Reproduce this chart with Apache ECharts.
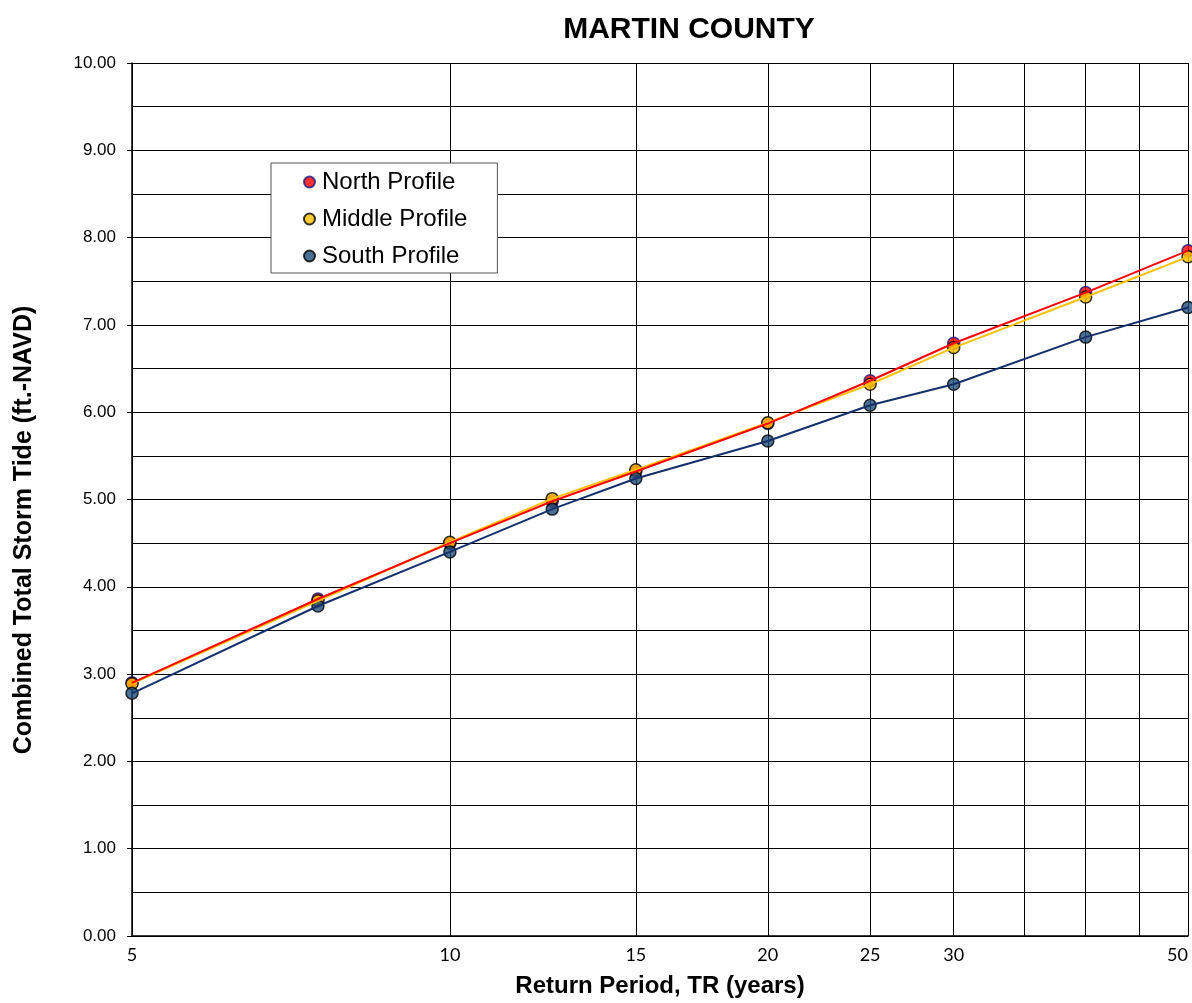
<!DOCTYPE html>
<html>
<head>
<meta charset="utf-8">
<script src="https://cdn.jsdelivr.net/npm/echarts@6/dist/echarts.min.js"></script>
<style>
  html, body { margin: 0; padding: 0; background: #fff; }
  #chart { width: 1192px; height: 1003px; }
</style>
</head>
<body>
<div id="chart"></div>
<script>
// ---- data ----
const returnPeriods = [5, 7.5, 10, 12.5, 15, 20, 25, 30, 40, 50];
const northProfile  = [2.90, 3.86, 4.50, 4.98, 5.32, 5.87, 6.36, 6.79, 7.37, 7.85];
const middleProfile = [2.89, 3.84, 4.51, 5.01, 5.34, 5.88, 6.32, 6.74, 7.32, 7.78];
const southProfile  = [2.78, 3.78, 4.40, 4.89, 5.24, 5.67, 6.08, 6.32, 6.86, 7.20];
const xGridValues  = [5, 10, 15, 20, 25, 30, 35, 40, 45, 50];
const xLabelValues = [5, 10, 15, 20, 25, 30, 50];
const seriesNames = ['North Profile', 'Middle Profile', 'South Profile'];

const pairs = ys => returnPeriods.map((x, i) => [x, ys[i]]);

const chart = echarts.init(document.getElementById('chart'), null, { renderer: 'canvas' });

const markerStyles = [
  { color: '#FF0000', borderColor: '#1a1a80', borderWidth: 1.5 },
  { color: '#FFC000', borderColor: '#000000', borderWidth: 1.5 },
  { color: '#1F4E79', borderColor: '#000000', borderWidth: 1.5 }
];
const lineColors = ['#FF0000', '#FFC000', '#14306B'];
const dataSets = [northProfile, middleProfile, southProfile];

const scatterSeries = dataSets.map((d, i) => ({
  name: seriesNames[i],
  type: 'scatter',
  data: pairs(d),
  symbol: 'circle',
  symbolSize: 12,
  itemStyle: markerStyles[i],
  z: 2 + i * 0.1,
  animation: false
}));
const lineSeries = dataSets.map((d, i) => ({
  name: seriesNames[i] + ' line',
  type: 'line',
  data: pairs(d),
  showSymbol: false,
  symbol: 'none',
  lineStyle: { color: lineColors[i], width: 2 },
  z: 5 - i * 0.1,
  animation: false
}));

chart.setOption({
  animation: false,
  backgroundColor: '#ffffff',
  title: {
    text: 'MARTIN COUNTY',
    left: 684,
    top: 10,
    textAlign: 'center',
    textStyle: { fontFamily: 'Liberation Sans, Arial', fontWeight: 'bold', fontSize: 30, color: '#000' }
  },
  graphic: [{
    type: 'text',
    x: 24,
    y: 530,
    rotation: Math.PI / 2,
    style: {
      text: 'Combined Total Storm Tide (ft.-NAVD)',
      fontFamily: 'Liberation Sans, Arial',
      fontWeight: 'bold',
      fontSize: 25,
      fill: '#000',
      align: 'center',
      verticalAlign: 'middle'
    }
  }],
  legend: {
    data: seriesNames.map(n => ({ name: n, icon: 'circle' })),
    orient: 'vertical',
    left: 271,
    top: 163,
    itemWidth: 11,
    itemHeight: 11,
    itemGap: 13,
    padding: [7, 30, 5, 32],
    backgroundColor: '#ffffff',
    borderColor: '#555555',
    borderWidth: 1,
    borderRadius: 0,
    textStyle: { fontFamily: 'Liberation Sans, Arial', fontSize: 24, color: '#000', lineHeight: 24, padding: [0, 0, 0, 2] }
  },
  grid: { left: 132, right: 4, top: 63, bottom: 66, containLabel: false },
  xAxis: {
    type: 'log',
    logBase: 10,
    min: 5,
    max: 50,
    name: 'Return Period, TR (years)',
    nameLocation: 'middle',
    nameGap: 38,
    nameTextStyle: { fontFamily: 'Liberation Sans, Arial', fontWeight: 'bold', fontSize: 24, color: '#000' },
    axisLine: { show: true, lineStyle: { color: '#000', width: 1.5 } },
    axisTick: { show: false, customValues: xGridValues },
    axisLabel: {
      customValues: xLabelValues,
      formatter: v => String(Math.round(v)),
      fontFamily: 'Lato, Open Sans, sans-serif',
      fontSize: 18,
      color: '#000',
      margin: 10,
      alignMaxLabel: 'right'
    },
    splitLine: { show: true, lineStyle: { color: '#000', width: 1 } },
    minorTick: { show: false },
    minorSplitLine: { show: false }
  },
  yAxis: {
    type: 'value',
    min: 0,
    max: 10,
    interval: 1,
    axisLine: { show: true, lineStyle: { color: '#000', width: 1.5 } },
    axisTick: { show: true, length: 5, lineStyle: { color: '#000' } },
    axisLabel: {
      formatter: v => v.toFixed(2),
      fontFamily: 'Liberation Sans, Arial',
      fontSize: 17,
      color: '#000',
      margin: 16
    },
    splitLine: { show: true, lineStyle: { color: '#000', width: 1 } },
    minorTick: { show: false, splitNumber: 2 },
    minorSplitLine: { show: true, lineStyle: { color: '#000', width: 1 } }
  },
  series: scatterSeries.concat(lineSeries)
});
</script>
</body>
</html>
